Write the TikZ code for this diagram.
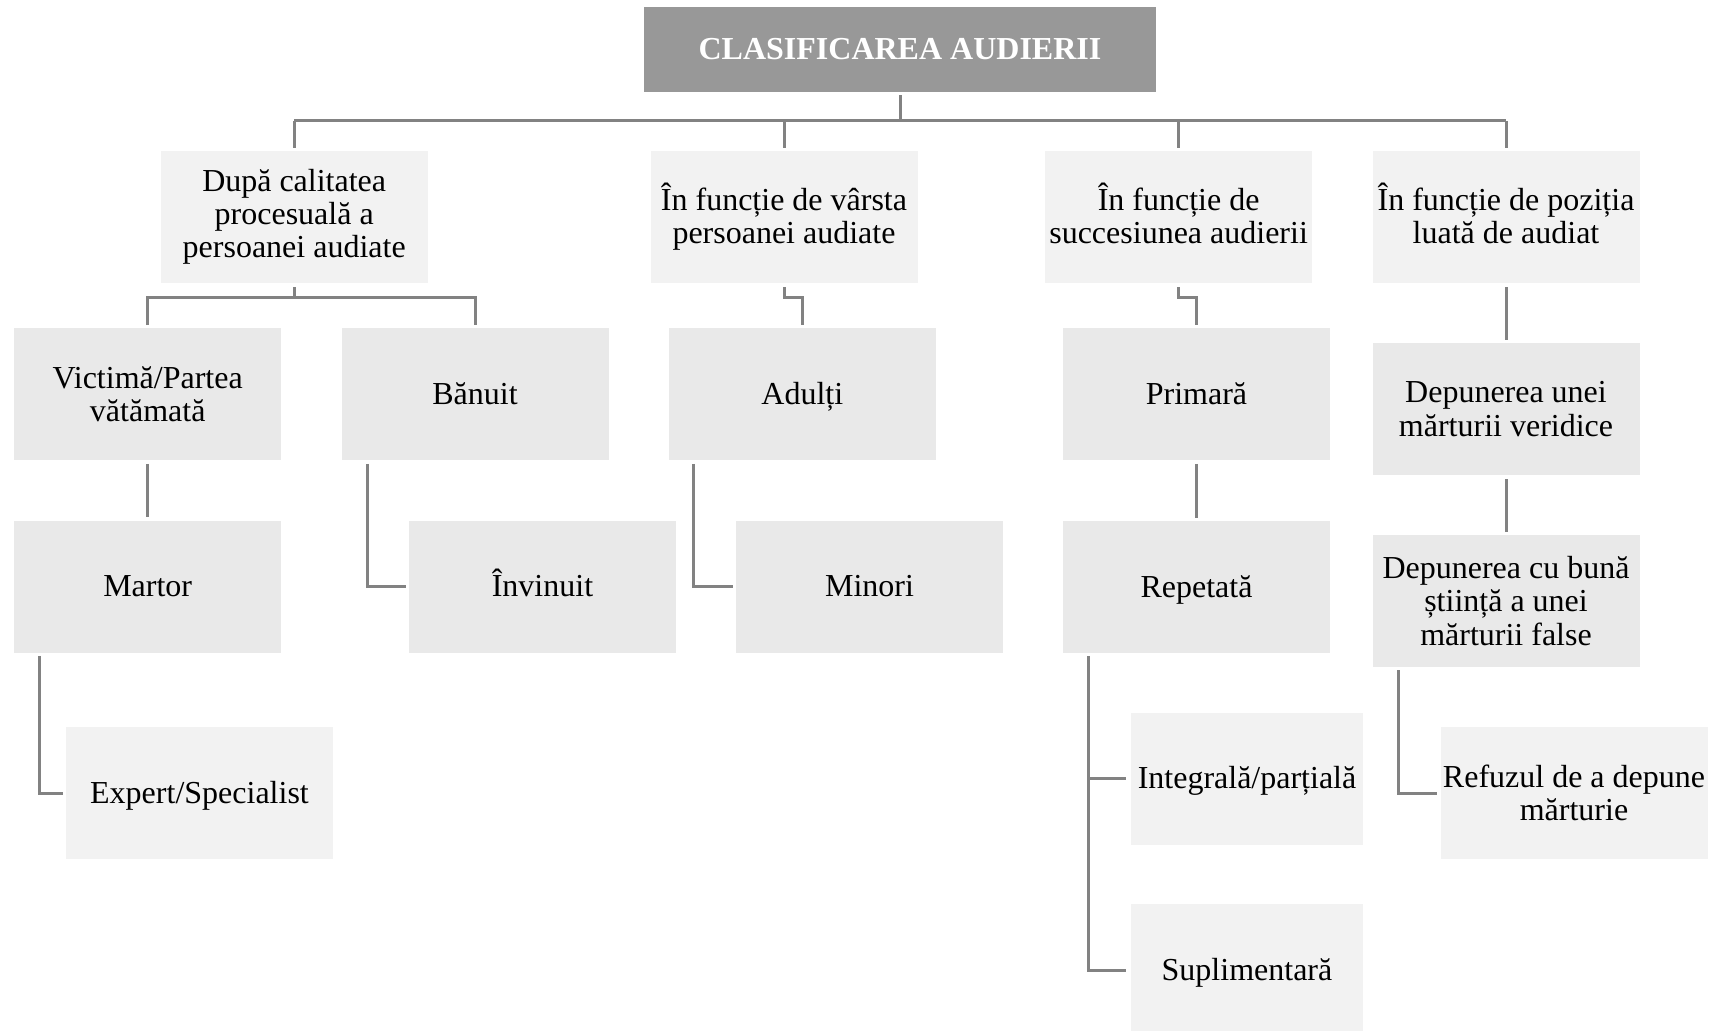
\documentclass[tikz,border=0pt]{standalone}
\usepackage{fontspec}
\setmainfont{Liberation Serif}
\definecolor{titlegray}{HTML}{989898}
\definecolor{lvlone}{HTML}{F2F2F2}
\definecolor{lvltwo}{HTML}{E9E9E9}
\definecolor{linegray}{HTML}{828282}
\begin{document}
\begin{tikzpicture}[x=0.5pt,y=-0.5pt,
  conn/.style={draw=linegray, line width=1.5pt},
  boxbase/.style={rectangle, inner sep=0pt, align=center,
    font=\fontsize{16pt}{16.6pt}\selectfont, minimum height=66pt, text=black},
  oneline/.style={text height=11pt, text depth=0.6pt},
  lone/.style={boxbase, fill=lvlone, minimum width=133.5pt},
  ltwo/.style={boxbase, fill=lvltwo, minimum width=133.5pt},
  lfour/.style={boxbase, fill=lvlone, minimum width=116pt},
  titlebox/.style={rectangle, inner sep=0pt, fill=titlegray, text=white,
    font=\fontsize{16pt}{16.6pt}\selectfont\bfseries, oneline,
    minimum width=256pt, minimum height=42.5pt}
]
\useasboundingbox (0,0) rectangle (1717,1031);
\fill[white] (0,0) rectangle (1717,1031);

% title
\node[titlebox] (T) at (900,49.5) {CLASIFICAREA AUDIERII};

% level 1
\node[lone] (A) at (294.2,217) {După calitatea\\procesuală a\\persoanei audiate};
\node[lone] (B) at (784,217) {În funcție de vârsta\\persoanei audiate};
\node[lone] (C) at (1178.6,217) {În funcție de\\succesiunea audierii\vphantom{p}};
\node[lone] (D) at (1506,217) {În funcție de poziția\\luată de audiat\vphantom{p}};

% level 2
\node[ltwo] (V) at (147.7,394.5) {Victimă/Partea\\vătămată};
\node[ltwo, oneline] (Bn) at (475,394.5) {Bănuit};
\node[ltwo, oneline] (Ad) at (802.3,394.5) {Adulți};
\node[ltwo, oneline] (P) at (1196.5,394.5) {Primară};
\node[ltwo] (DU) at (1506,409) {Depunerea unei\\mărturii veridice};

% level 3
\node[ltwo, oneline] (M) at (147.7,586.5) {Martor};
\node[ltwo, oneline] (Inv) at (542.5,586.5) {Învinuit};
\node[ltwo, oneline] (Mi) at (869.5,586.5) {Minori};
\node[ltwo, oneline] (R) at (1196.5,587) {Repetată};
\node[ltwo] (DC) at (1506,601) {Depunerea cu bună\\știință a unei\\mărturii false};

% level 4
\node[lone, oneline] (E) at (199.5,793) {Expert/Specialist};
\node[lfour, oneline] (In) at (1247,778.5) {Integrală/parțială};
\node[lfour, oneline] (Su) at (1247,970) {Suplimentară};
\node[lone] (Rf) at (1574,793) {Refuzul de a depune\\mărturie};

% junction levels
\coordinate (bar) at (0,121);
\coordinate (j1) at (0,298);

% title to level 1
\draw[conn, shorten <=1.5pt] (T.south) -- (T.south |- bar);
\draw[conn] (A.north |- bar) -- (D.north |- bar);
\foreach \n in {A,B,C,D}
  \draw[conn, shorten >=1.5pt] (\n.north |- bar) -- (\n.north);

% A to Victima / Banuit
\draw[conn, shorten <=2pt] (A.south) -- (A.south |- j1);
\draw[conn, shorten <=1.5pt, shorten >=1.5pt] (V.north) -- (V.north |- j1) -- (Bn.north |- j1) -- (Bn.north);

% B to Adulti, C to Primara
\draw[conn, shorten <=2pt, shorten >=1.5pt] (B.south) -- (B.south |- j1) -| (Ad.north);
\draw[conn, shorten <=2pt, shorten >=1.5pt] (C.south) -- (C.south |- j1) -| (P.north);

% D to Depunerea unei
\draw[conn, shorten <=2pt, shorten >=1.5pt] (D.south) -- (DU.north);

% level 2 to level 3
\draw[conn, shorten <=1.5pt, shorten >=1.5pt] (V.south) -- (M.north);
\draw[conn, shorten <=1.5pt, shorten >=1.5pt] ([xshift=13pt]Bn.south west) |- (Inv.west);
\draw[conn, shorten <=1.5pt, shorten >=1.5pt] ([xshift=12.6pt]Ad.south west) |- (Mi.west);
\draw[conn, shorten <=1.5pt, shorten >=1.5pt] (P.south) -- (R.north);
\draw[conn, shorten <=2pt, shorten >=1.5pt] (DU.south) -- (DC.north);

% level 3 to level 4
\draw[conn, shorten <=1.5pt, shorten >=1.5pt] ([xshift=12.6pt]M.south west) |- (E.west);
\draw[conn, shorten <=1.5pt, shorten >=2.2pt] ([xshift=13pt]R.south west) |- (Su.west);
\draw[conn, shorten >=2.2pt] ([xshift=13pt]R.south west |- In.west) -- (In.west);
\draw[conn, shorten <=1.5pt, shorten >=1.5pt] ([xshift=13pt]DC.south west) |- (Rf.west);
\end{tikzpicture}
\end{document}
